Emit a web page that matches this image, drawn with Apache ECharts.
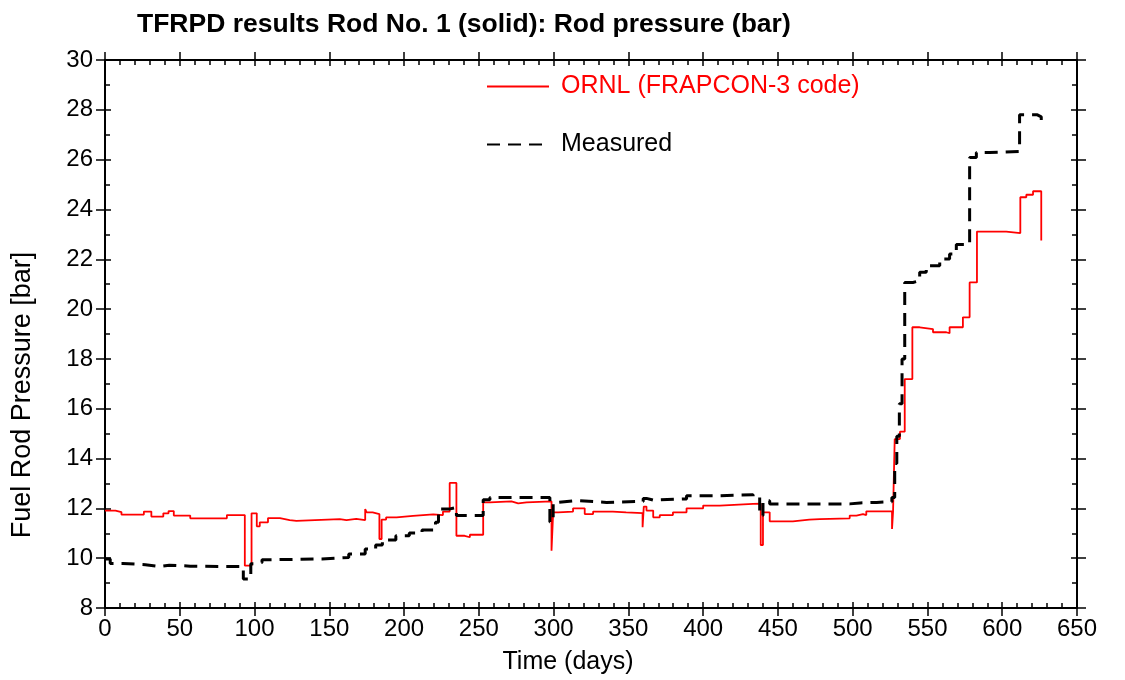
<!DOCTYPE html>
<html><head><meta charset="utf-8">
<script src="https://cdn.jsdelivr.net/npm/echarts@6/dist/echarts.min.js"></script>
<style>html,body{margin:0;padding:0;background:#fff}#c{width:1125px;height:680px}</style>
</head><body><div id="c"></div>
<script>
// ORNL (FRAPCON-3 code): each point = start day of a step and its pressure (bar)
const ornlDays = [0,7,11,26,31,39,42.5,46,57,81.5,93.5,98,101.5,103.5,109,117,123.5,128,157,161.5,168,174,175,179,183.5,185,188,195,206,219.5,226,230.5,235,240.5,244,252.9,257.4,271.8,276.3,281.9,298.6,299.7,303,313,320.8,326.4,339.6,348.5,359.5,360.3,362.1,366.6,371,379.8,388.9,400,411.1,433.4,438.5,440,444.5,460,471,478,498,502.5,506.9,509.1,526.3,527,528.1,531.6,534.8,539.9,544.8,553.7,562.6,564.8,573.7,578.2,583.1,591.6,602.7,612.1,616.1,620.6,626.1];
const ornlBar  = [11.91,11.85,11.75,11.87,11.67,11.8,11.89,11.71,11.6,11.73,9.7,11.8,11.28,11.44,11.61,11.53,11.5,11.57,11.53,11.58,11.53,11.97,11.84,11.77,10.77,11.55,11.64,11.7,11.76,11.73,11.87,13.02,10.9,10.84,10.94,12.24,12.28,12.2,12.24,12.28,10.3,11.84,11.87,12.0,11.77,11.87,11.84,11.81,11.24,12.07,11.91,11.64,11.73,11.84,12.0,12.11,12.18,12.19,10.53,11.84,11.48,11.55,11.57,11.6,11.71,11.77,11.73,11.88,11.17,11.88,14.78,15.08,17.19,19.27,19.2,19.07,19.03,19.27,19.67,21.07,23.11,23.11,23.05,24.49,24.59,24.73,22.75];
// Measured
const measDays = [0,3.5,12,27,36.5,43,57,92.5,97.5,99.5,105,114,145,163,174,181,185.5,194.5,203.5,212,221,223,224.5,230,235,252.9,257.4,297.5,299.7,303.1,315.3,335.4,359.9,362.1,366.6,388.9,411.1,433.4,437.8,440,444.5,498,505,516,526.2,528.1,529.5,531.2,533,534.8,540.3,544.8,549.2,558.2,564.8,569.3,578.2,582.7,591.6,611.6,623.5,626.1];
const measBar  = [9.97,9.79,9.74,9.67,9.72,9.68,9.66,9.16,9.78,9.83,9.94,9.97,10.03,10.17,10.37,10.53,10.73,10.9,11.01,11.13,11.44,11.84,11.97,12.04,11.71,12.35,12.44,11.45,12.24,12.31,12.24,12.28,12.4,12.33,12.38,12.51,12.55,12.44,11.71,12.31,12.18,12.22,12.24,12.27,12.44,13.8,14.9,16.2,18.0,21.07,21.14,21.48,21.74,22.01,22.21,22.59,26.09,26.29,26.33,27.8,27.72,27.43];
const xMin = 0, xMax = 650, xStep = 50;
const yMin = 8, yMax = 30, yStep = 2;

const FONT = 'Liberation Sans, Arial, Helvetica, sans-serif';
const pair = (xs, ys) => xs.map((x, i) => [x, ys[i]]);

function xAx(pos, inside, labels) {
  return {
    type: 'value', position: pos, min: xMin, max: xMax, interval: xStep,
    axisLine: { show: true, onZero: false, lineStyle: { color: '#000', width: 2 } },
    axisTick: { show: true, inside: inside, length: inside ? 6 : 8, lineStyle: { color: '#000', width: 1.5 } },
    minorTick: { show: inside, splitNumber: 5, length: 5, lineStyle: { color: '#000', width: 1.5 } },
    splitLine: { show: false }, minorSplitLine: { show: false },
    axisLabel: { show: labels, color: '#000', fontFamily: FONT, fontSize: 24, margin: 9 }
  };
}
function yAx(pos, inside, labels) {
  return {
    type: 'value', position: pos, min: yMin, max: yMax, interval: yStep,
    axisLine: { show: true, onZero: false, lineStyle: { color: '#000', width: 2 } },
    axisTick: { show: true, inside: inside, length: inside ? 6 : 9, lineStyle: { color: '#000', width: 1.5 } },
    minorTick: { show: inside, splitNumber: 2, length: 5, lineStyle: { color: '#000', width: 1.5 } },
    splitLine: { show: false }, minorSplitLine: { show: false },
    axisLabel: { show: labels, color: '#000', fontFamily: FONT, fontSize: 24, margin: 12 }
  };
}

const chart = echarts.init(document.getElementById('c'), null, { renderer: 'canvas' });
chart.setOption({
  animation: false,
  backgroundColor: '#fff',
  title: {
    text: 'TFRPD results Rod No. 1 (solid): Rod pressure (bar)',
    left: 132, top: 6,
    textStyle: { fontFamily: FONT, fontWeight: 'bold', fontSize: 26.5, color: '#000' }
  },
  grid: { left: 105, right: 48, top: 60, bottom: 72, containLabel: false },
  xAxis: [xAx('bottom', false, true), xAx('bottom', true, false), xAx('top', false, false), xAx('top', true, false)],
  yAxis: [yAx('left', false, true), yAx('left', true, false), yAx('right', false, false), yAx('right', true, false)],
  legend: {
    orient: 'vertical', left: 481, top: 69,
    itemWidth: 62, itemHeight: 26, itemGap: 33,
    itemStyle: { opacity: 0 },
    textStyle: { fontFamily: FONT, fontSize: 25, color: '#000', padding: [0, 0, 0, 7] },
    data: [
      { name: 'ORNL (FRAPCON-3 code)', textStyle: { color: '#ff0000' } },
      { name: 'Measured', textStyle: { color: '#000' } }
    ]
  },
  graphic: [
    { type: 'text', x: 23, y: 395, rotation: Math.PI / 2,
      style: { text: 'Fuel Rod Pressure [bar]', font: '27px ' + FONT, fill: '#000', align: 'center', verticalAlign: 'middle' } },
    { type: 'text', x: 568, y: 662,
      style: { text: 'Time (days)', font: '25px ' + FONT, fill: '#000', align: 'center', verticalAlign: 'middle' } }
  ],
  series: [
    { name: 'ORNL (FRAPCON-3 code)', type: 'line', step: 'end', data: pair(ornlDays, ornlBar),
      xAxisIndex: 0, yAxisIndex: 0, symbol: 'none', showSymbol: false,
      lineStyle: { color: '#ff0000', width: 1.8 }, itemStyle: { color: '#ff0000' }, z: 3 },
    { name: 'Measured', type: 'line', step: 'end', data: pair(measDays, measBar),
      xAxisIndex: 0, yAxisIndex: 0, symbol: 'none', showSymbol: false,
      lineStyle: { color: '#000', width: 3, type: [13, 8] }, itemStyle: { color: '#000' }, z: 4 }
  ]
});
</script></body></html>
